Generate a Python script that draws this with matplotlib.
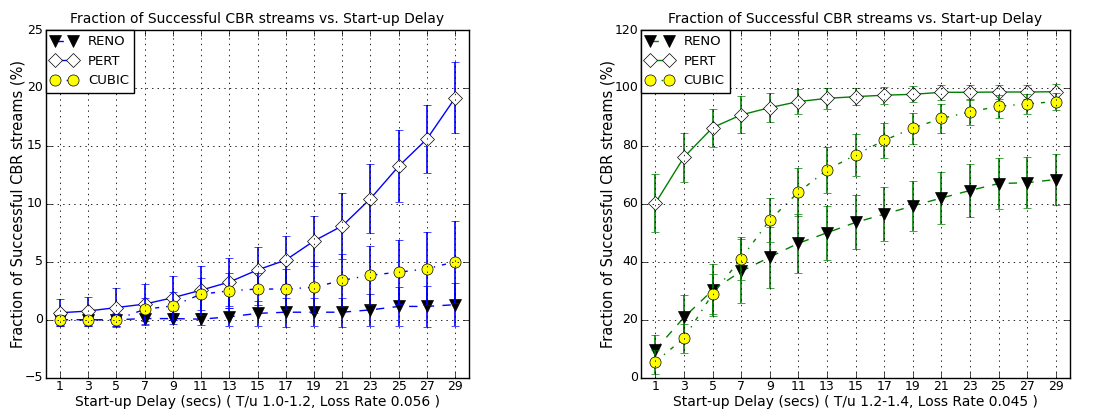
import matplotlib
matplotlib.use('Agg')
import matplotlib.pyplot as plt
import numpy as np

plt.style.use('classic')
plt.rcParams['font.family'] = ['DejaVu Sans']
plt.rcParams['figure.facecolor'] = 'white'
plt.rcParams['savefig.facecolor'] = 'white'

delays = [1, 3, 5, 7, 9, 11, 13, 15, 17, 19, 21, 23, 25, 27, 29]

# T/u 1.0-1.2, loss rate 0.056
reno_a = [0, 0, 0, 0.1, 0.1, 0.05, 0.25, 0.55, 0.65, 0.65, 0.65, 0.85, 1.15, 1.15, 1.3]
reno_a_err = [0.5, 0.5, 0.55, 0.55, 0.5, 0.5, 0.75, 1.05, 1.25, 1.2, 1.25, 1.4, 1.7, 1.75, 1.85]
pert_a = [0.6, 0.75, 1.05, 1.35, 1.9, 2.55, 3.25, 4.3, 5.15, 6.8, 8.1, 10.45, 13.25, 15.6, 19.15]
pert_a_err = [1.15, 1.25, 1.65, 1.7, 1.9, 2.1, 2.1, 2.0, 2.05, 2.15, 2.85, 2.95, 3.1, 2.95, 3.05]
cubic_a = [0, 0, 0, 0.9, 1.2, 2.2, 2.5, 2.65, 2.65, 2.8, 3.4, 3.85, 4.1, 4.4, 5.0]
cubic_a_err = [0.45, 0.45, 0.5, 1.0, 1.2, 1.4, 1.5, 1.35, 1.75, 2.2, 2.3, 2.55, 2.75, 3.15, 3.55]

# T/u 1.2-1.4, loss rate 0.045
reno_b = [9.6, 20.8, 30.2, 36.7, 41.6, 46.4, 50.0, 53.6, 56.4, 59.3, 62.0, 64.6, 67.0, 67.3, 68.4]
reno_b_err = [5.0, 7.9, 9.0, 11.0, 10.5, 10.1, 9.4, 9.3, 9.3, 8.6, 9.0, 9.0, 8.9, 8.8, 8.9]
pert_b = [60.2, 76.1, 86.3, 90.7, 93.2, 95.3, 96.4, 97.0, 97.5, 97.8, 98.5, 98.5, 98.6, 98.6, 98.7]
pert_b_err = [10.0, 8.4, 6.6, 6.4, 5.0, 4.3, 3.7, 3.0, 2.9, 2.8, 2.5, 2.5, 2.5, 2.5, 2.5]
cubic_b = [5.5, 13.6, 28.9, 41.1, 54.4, 64.0, 71.7, 76.9, 81.9, 86.1, 89.5, 91.7, 93.7, 94.5, 95.3]
cubic_b_err = [4.2, 5.0, 7.0, 7.3, 7.5, 8.2, 8.0, 7.2, 6.1, 5.4, 5.1, 4.6, 4.0, 3.5, 3.0]

subtitles = ['( T/u 1.0-1.2, Loss Rate 0.056 )', '( T/u 1.2-1.4, Loss Rate 0.045 )']


def draw_series(ax, color, y, err, ls, marker, mfc, ms, label):
    # error bars first, then the line + markers (only the line goes in the legend)
    ax.errorbar(delays, y, yerr=err, fmt='none', ecolor=color, capsize=3, elinewidth=1.2)
    ax.plot(delays, y, color=color, ls=ls, marker=marker, mfc=mfc, mec='black',
            ms=ms, label=label)


def draw_panel(ax, color, reno, reno_err, pert, pert_err, cubic, cubic_err, ylim, yticks, subtitle):
    draw_series(ax, color, reno, reno_err, '--', 'v', 'black', 8, 'RENO')
    draw_series(ax, color, pert, pert_err, '-', 'D', 'white', 7, 'PERT')
    draw_series(ax, color, cubic, cubic_err, '-.', 'o', 'yellow', 8, 'CUBIC')
    ax.set_xlim(0, 30)
    ax.set_xticks(delays)
    ax.set_ylim(*ylim)
    ax.set_yticks(yticks)
    ax.tick_params(labelsize=9, pad=2)
    ax.grid(True, color='black', ls=':', lw=0.6)
    ax.set_title('Fraction of Successful CBR streams vs. Start-up Delay', fontsize=10)
    ax.set_xlabel('Start-up Delay (secs) ' + subtitle, fontsize=10, labelpad=1)
    ax.set_ylabel('Fraction of Successful CBR streams (%)', fontsize=10.5, labelpad=-1)
    leg = ax.legend(loc='upper left', numpoints=2, borderaxespad=0, fontsize=9.5,
                    handlelength=2.0, frameon=True)
    leg.get_frame().set_linewidth(1.0)


fig = plt.figure(figsize=(10.93, 4.15), dpi=100)
ax1 = fig.add_axes([0.0418, 0.0899, 0.3876, 0.8378])
ax2 = fig.add_axes([0.5865, 0.0899, 0.3925, 0.8378])

draw_panel(ax1, 'b', reno_a, reno_a_err, pert_a, pert_a_err, cubic_a, cubic_a_err,
           (-5, 25), range(-5, 26, 5), subtitles[0])
draw_panel(ax2, 'g', reno_b, reno_b_err, pert_b, pert_b_err, cubic_b, cubic_b_err,
           (0, 120), range(0, 121, 20), subtitles[1])

fig.savefig('out.png', dpi=100)
